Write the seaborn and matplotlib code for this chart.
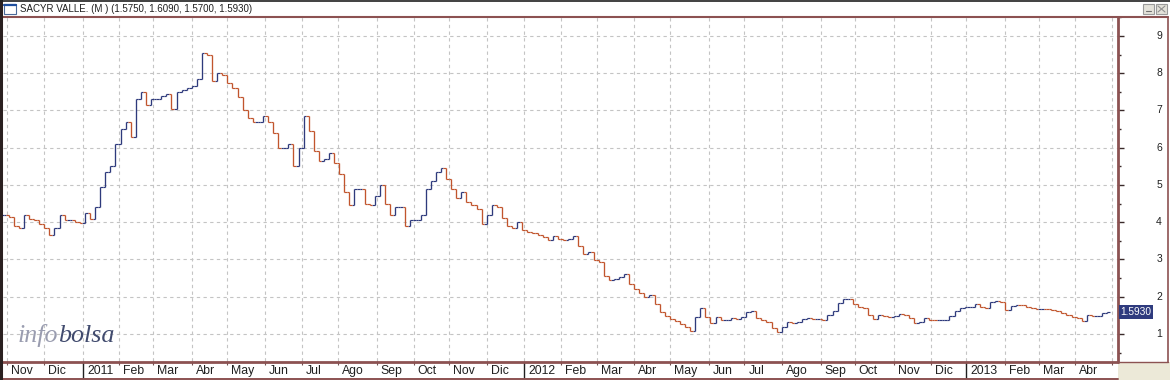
import numpy as np
import pandas as pd
import matplotlib
matplotlib.use("Agg")
import matplotlib.pyplot as plt
import matplotlib.transforms as mtransforms
from matplotlib.patches import Rectangle
import seaborn as sns

# ---------------- data ----------------
title_name = "SACYR VALLE. (M )"
last_ohlc = [1.5750, 1.6090, 1.5700, 1.5930]
start_date = "2010-10-28"
end_calendar = "2013-05-10"
step_days = 3  # one value every 3 trading days
closes = [
    4.2, 4.15, 3.9, 3.85, 4.2, 4.1, 4.05, 3.95, 3.85, 3.65,
    3.85, 4.2, 4.05, 4.05, 4.0, 3.98, 4.25, 4.1, 4.4, 4.95,
    5.35, 5.5, 6.1, 6.5, 6.7, 6.3, 7.3, 7.5, 7.15, 7.3,
    7.3, 7.4, 7.45, 7.05, 7.5, 7.55, 7.6, 7.65, 7.85, 8.55,
    8.5, 7.8, 8.0, 7.95, 7.75, 7.6, 7.35, 7.0, 6.8, 6.7,
    6.7, 6.85, 6.7, 6.4, 6.0, 6.0, 6.1, 5.5, 6.0, 6.85,
    6.45, 5.9, 5.65, 5.7, 5.85, 5.6, 5.3, 4.8, 4.45, 4.9,
    4.9, 4.5, 4.45, 4.7, 5.0, 4.5, 4.2, 4.4, 4.4, 3.9,
    4.05, 4.05, 4.2, 4.9, 5.1, 5.35, 5.45, 5.15, 4.9, 4.65,
    4.8, 4.55, 4.45, 4.35, 3.95, 4.2, 4.45, 4.4, 4.12, 3.9,
    3.85, 4.0, 3.8, 3.75, 3.7, 3.65, 3.6, 3.52, 3.62, 3.55,
    3.52, 3.55, 3.62, 3.35, 3.15, 3.2, 2.98, 2.92, 2.55, 2.45,
    2.48, 2.52, 2.6, 2.35, 2.2, 2.1, 2.0, 2.05, 1.8, 1.6,
    1.47, 1.4, 1.35, 1.27, 1.18, 1.08, 1.45, 1.7, 1.45, 1.3,
    1.45, 1.38, 1.38, 1.42, 1.4, 1.45, 1.6, 1.62, 1.42, 1.37,
    1.32, 1.15, 1.06, 1.2, 1.32, 1.3, 1.32, 1.4, 1.42, 1.4,
    1.4, 1.38, 1.5, 1.62, 1.82, 1.95, 1.95, 1.8, 1.72, 1.7,
    1.5, 1.4, 1.5, 1.47, 1.46, 1.48, 1.55, 1.5, 1.43, 1.3,
    1.32, 1.42, 1.38, 1.37, 1.38, 1.38, 1.48, 1.62, 1.7, 1.72,
    1.73, 1.8, 1.72, 1.7, 1.85, 1.88, 1.87, 1.65, 1.75, 1.78,
    1.77, 1.72, 1.7, 1.68, 1.68, 1.67, 1.65, 1.62, 1.57, 1.52,
    1.46, 1.43, 1.35, 1.5, 1.47, 1.48, 1.57, 1.593,
]
month_names = ["Ene", "Feb", "Mar", "Abr", "May", "Jun",
               "Jul", "Ago", "Sep", "Oct", "Nov", "Dic"]
y_ticks = [1, 2, 3, 4, 5, 6, 7, 8, 9]

# ---------------- style ----------------
sns.set_theme(style="white")
plt.rcParams["font.family"] = ["Liberation Sans", "DejaVu Sans"]

UP = "#2e3a7c"
DOWN = "#c1552d"
BROWN = "#8c5252"
GRID = "#c4c4c4"

W, H = 1170, 380
fig = plt.figure(figsize=(W / 100, H / 100), dpi=100)
fig.patch.set_facecolor("white")

L, R, T, B = 3, 1118, 17, 361
ax = fig.add_axes([L / W, (H - B) / H, (R - L) / W, (B - T) / H], zorder=2)
ax.set_facecolor("white")

ov = fig.add_axes([0, 0, 1, 1], zorder=3)
ov.set_xlim(0, W)
ov.set_ylim(H, 0)
ov.axis("off")
ov.patch.set_alpha(0)

# ---------------- data frame ----------------
days = pd.bdate_range(start_date, end_calendar)
sample_dates = pd.bdate_range(start_date, periods=len(closes), freq=f"{step_days}B")
xpos = days.get_indexer(sample_dates)
df = pd.DataFrame({"date": sample_dates, "x": xpos, "close": closes})
df["open"] = df["close"].shift(1).fillna(df["close"])
df["lo"] = df[["open", "close"]].min(axis=1)
df["hi"] = df[["open", "close"]].max(axis=1)
df["dir"] = np.where(df["close"] >= df["open"], "up", "down")

half = step_days / 2
for d, col in (("up", UP), ("down", DOWN)):
    s = df[df["dir"] == d]
    ax.vlines(s["x"], s["lo"], s["hi"], color=col, lw=0.95, zorder=3)
    ax.hlines(s["open"], s["x"] - half, s["x"], color=col, lw=0.85, zorder=3)
    ax.hlines(s["close"], s["x"], s["x"] + half, color=col, lw=0.85, zorder=3)

# ---------------- axes ----------------
ax.set_xlim(-0.35, 657.4)
ax.set_ylim(0.275, 9.51)
for sp in ax.spines.values():
    sp.set_visible(False)

month_first = np.where(days.month != np.roll(days.month, 1))[0]
month_first = month_first[month_first > 0]
month_first = month_first[month_first < 657]
ax.set_xticks(month_first)
ax.set_xticklabels([])
ax.tick_params(axis="x", which="major", direction="out", length=3, width=0.8,
               color="#705050", bottom=True, pad=0)
ax.set_yticks(y_ticks)
ax.set_yticks(np.arange(0.5, 9.6, 1.0), minor=True)
ax.yaxis.tick_right()
ax.set_yticklabels([])
ax.tick_params(axis="y", which="major", direction="out", length=4.5, width=1.0,
               color="#3a2a2a", right=True, left=False)
ax.tick_params(axis="y", which="minor", direction="out", length=2, width=1.0,
               color="#3a2a2a", right=True, left=False)
ax.grid(True, which="major", axis="both", color=GRID, lw=0.8, ls=(0, (3, 3)))
ax.set_axisbelow(True)

# x labels
xtrans = mtransforms.blended_transform_factory(ax.transData, ov.transData)
xlab_trans = mtransforms.offset_copy(xtrans, fig=fig, x=4, y=0, units="dots")
for i in month_first:
    dt = days[i]
    lab = str(dt.year) if dt.month == 1 else month_names[dt.month - 1]
    if i < 645:
        ov.text(i, 371, lab, transform=xlab_trans, ha="left", va="center",
                fontsize=8.8, color="#202020")
    if dt.month == 1:
        ov.plot([i, i], [362, 378], transform=xtrans, color="#202020", lw=1.0)

# y labels on right panel
ytrans = mtransforms.blended_transform_factory(ov.transData, ax.transData)
for v in y_ticks:
    ov.text(1162, v, str(v), transform=ytrans, ha="right", va="center",
            fontsize=7.5, color="#202020")

# last price box
last = closes[-1]
ov.text(1136, last, f"{last_ohlc[3]:.4f}", transform=ytrans, ha="center", va="center",
        fontsize=7.3, color="white",
        bbox=dict(boxstyle="square,pad=0.18", fc="#2f3b7e", ec="none"))

# ---------------- window chrome ----------------
ov.add_patch(Rectangle((R, 362), W - R, H - 362, fc="#ece9d8", ec="none", zorder=0))
ov.plot([2, W - 2], [17, 17], color=BROWN, lw=1.5)
ov.plot([R, R], [17, 362], color=BROWN, lw=2.0)
ov.plot([2, R], [362, 362], color=BROWN, lw=2.0)
ov.plot([2, R], [378.5, 378.5], color=BROWN, lw=1.4)
ov.plot([1168, 1168], [17, 362], color=BROWN, lw=1.2)
ov.plot([R, 1168], [362, 362], color=BROWN, lw=1.0)
ov.plot([1, 1], [0, H], color="#2a2020", lw=2.2)
ov.plot([0, W], [0.6, 0.6], color="#202020", lw=1.2)

# title bar
ov.add_patch(Rectangle((4, 4), 12, 10, fc="white", ec="#4a6a9a", lw=0.8))
ov.plot([4, 16], [4.5, 4.5], color="#1f4f9f", lw=1.6)
ov.text(20, 8.5, f"{title_name} ({', '.join(f'{v:.4f}' for v in last_ohlc)})",
        ha="left", va="center", fontsize=7, color="#202020")
for bx in (1143, 1156):
    ov.add_patch(Rectangle((bx, 4), 11, 10, fc="#e4e2da", ec="#9a9a9a", lw=0.8))
ov.plot([1146, 1151], [11, 11], color="#707070", lw=0.8)
ov.plot([1158, 1165], [12, 6], color="#909090", lw=0.8)
ov.plot([1158, 1165], [6, 12], color="#909090", lw=0.8)

# watermark
r = fig.canvas.get_renderer()
t1 = ov.text(18, 342, "info", fontfamily="Liberation Serif", style="italic",
             fontsize=18.7, color="#9a9db0", ha="left", va="baseline")
bb = t1.get_window_extent(renderer=r)
ov.text(bb.x1, 342, "bolsa", fontfamily="Liberation Serif", style="italic",
        fontsize=18.7, color="#414b6e", ha="left", va="baseline")

fig.savefig("out.png", dpi=100, facecolor="white")
